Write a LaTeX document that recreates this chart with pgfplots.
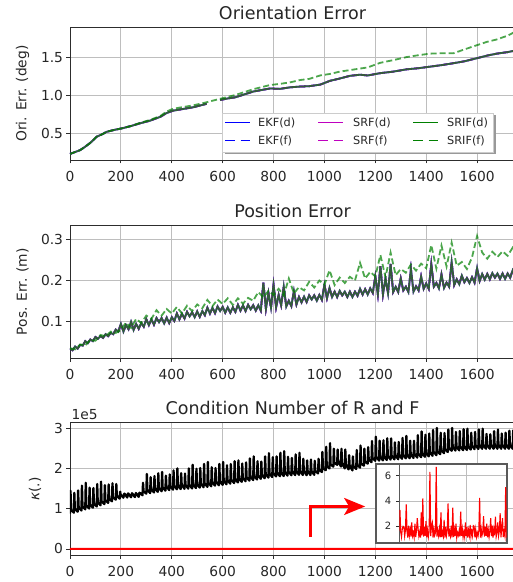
\documentclass[border=0pt]{standalone}
\usepackage{fontspec}
\setmainfont{DejaVu Sans}
\usepackage{pgfplots}
\pgfplotsset{compat=1.18}
\usepackage{pgfplotstable}
\usetikzlibrary{arrows.meta}

\definecolor{ekf}{RGB}{0,0,255}
\definecolor{srf}{RGB}{191,0,191}
\definecolor{srif}{RGB}{0,128,0}
\definecolor{spine}{RGB}{45,45,45}
\definecolor{gridc}{RGB}{190,190,190}

\newcommand\tk{\fontsize{13.8pt}{16pt}\selectfont}
\newcommand\ttl{\fontsize{17.5pt}{20pt}\selectfont}
\newcommand\lgd{\fontsize{11.3pt}{13pt}\selectfont}
\newcommand\ins{\fontsize{10pt}{12pt}\selectfont}

\tikzset{
  ln/.style={line width=1.8pt, opacity=0.7},
  dsh/.style={dash pattern=on 6pt off 3pt},
}

% orientation error: o = EKF/SRF/SRIF(d) and (f) except SRIF(f) = of
\pgfplotstableread{
x o of
0 0.235 0.235
20 0.26 0.26
40 0.285 0.285
60 0.33 0.33
80 0.38 0.38
105 0.46 0.46
125 0.49 0.49
145 0.525 0.525
175 0.55 0.55
205 0.57 0.57
240 0.60 0.60
275 0.635 0.64
315 0.67 0.68
355 0.72 0.73
380 0.77 0.79
405 0.80 0.825
440 0.82 0.845
485 0.845 0.87
537 0.89 0.91
560 nan 0.93
590 0.94 0.955
620 0.96 0.98
650 0.975 1.005
720 1.05 1.08
786 1.09 1.135
825 1.085 1.15
865 1.105 1.17
904 1.115 1.20
940 1.12 1.215
983 1.14 1.26
1022 1.19 1.28
1060 1.22 1.31
1100 1.255 1.33
1140 1.27 1.35
1170 1.26 1.365
1219 1.29 1.425
1270 1.31 1.46
1323 1.34 1.50
1370 1.355 1.525
1415 1.375 1.545
1460 1.395 1.55
1507 1.42 1.55
1550 1.445 1.60
1599 1.485 1.655
1640 1.52 1.70
1677 1.545 1.73
1720 1.565 1.78
1749 1.585 1.83
}\orient

% position error of EKF/SRF/SRIF(d) and EKF/SRF(f)
\pgfplotstableread[row sep=\\]{
x b\\
0 .035\\ 10 .031\\ 20 .040\\ 30 .035\\ 40 .044\\ 50 .042\\ 60 .053\\ 70 .048\\ 80 .057\\ 90 .053\\
100 .063\\ 110 .059\\ 120 .065\\ 130 .061\\ 140 .070\\ 150 .065\\ 160 .073\\ 170 .070\\ 180 .081\\ 190 .076\\
200 .095\\ 210 .076\\ 220 .092\\ 230 .082\\ 240 .100\\ 250 .080\\ 260 .095\\ 270 .083\\ 280 .097\\ 290 .088\\
300 .106\\ 310 .092\\ 320 .106\\ 330 .093\\ 340 .109\\ 350 .099\\ 360 .109\\ 370 .096\\ 380 .110\\ 390 .097\\
400 .111\\ 410 .102\\ 420 .120\\ 430 .106\\ 440 .120\\ 450 .108\\ 460 .124\\ 470 .113\\ 480 .123\\ 490 .111\\
500 .125\\ 510 .112\\ 520 .126\\ 530 .116\\ 540 .134\\ 550 .120\\ 560 .134\\ 570 .121\\ 580 .137\\ 590 .126\\
600 .136\\ 610 .122\\ 620 .135\\ 630 .122\\ 640 .135\\ 650 .124\\ 660 .141\\ 670 .127\\ 680 .140\\ 690 .126\\
700 .141\\ 710 .130\\ 720 .140\\ 730 .127\\ 740 .140\\ 750 .127\\ 760 .195\\ 770 .131\\ 780 .170\\ 790 .134\\
800 .190\\ 810 .135\\ 820 .165\\ 830 .140\\ 840 .185\\ 850 .137\\ 860 .151\\ 870 .138\\ 880 .175\\ 890 .142\\
900 .160\\ 910 .147\\ 920 .161\\ 930 .148\\ 940 .164\\ 950 .154\\ 960 .164\\ 970 .151\\ 980 .165\\ 990 .153\\
1000 .190\\ 1010 .157\\ 1020 .182\\ 1030 .160\\ 1040 .173\\ 1050 .160\\ 1060 .175\\ 1070 .164\\ 1080 .173\\ 1090 .160\\
1100 .173\\ 1110 .160\\ 1120 .173\\ 1130 .163\\ 1140 .180\\ 1150 .166\\ 1160 .179\\ 1170 .166\\ 1180 .181\\ 1190 .170\\
1200 .210\\ 1210 .166\\ 1220 .235\\ 1230 .166\\ 1240 .205\\ 1250 .169\\ 1260 .240\\ 1270 .172\\ 1280 .185\\ 1290 .172\\
1300 .205\\ 1310 .176\\ 1320 .185\\ 1330 .172\\ 1340 .228\\ 1350 .173\\ 1360 .186\\ 1370 .176\\ 1380 .210\\ 1390 .180\\
1400 .193\\ 1410 .180\\ 1420 .240\\ 1430 .185\\ 1440 .194\\ 1450 .181\\ 1460 .215\\ 1470 .182\\ 1480 .195\\ 1490 .185\\
1500 .245\\ 1510 .189\\ 1520 .203\\ 1530 .191\\ 1540 .212\\ 1550 .196\\ 1560 .206\\ 1570 .194\\ 1580 .208\\ 1590 .195\\
1600 .230\\ 1610 .199\\ 1620 .216\\ 1630 .202\\ 1640 .216\\ 1650 .203\\ 1660 .218\\ 1670 .207\\ 1680 .217\\ 1690 .204\\
1700 .217\\ 1710 .204\\ 1720 .217\\ 1730 .207\\ 1740 .225\\ 1750 .211\\ 1760 .224\\ 1770 .211\\ 1780 .226\\
}\posit

% position error of SRIF(f)
\pgfplotstableread[row sep=\\]{
x sf\\
0 .036\\ 20 .033\\ 40 .045\\ 60 .043\\ 80 .056\\ 100 .054\\ 120 .068\\ 140 .065\\ 160 .076\\ 180 .073\\
200 .080\\ 220 .098\\ 240 .085\\ 260 .107\\ 280 .097\\ 300 .115\\ 320 .107\\ 340 .128\\ 360 .115\\ 380 .131\\
400 .120\\ 420 .136\\ 440 .120\\ 460 .139\\ 480 .126\\ 500 .142\\ 520 .133\\ 540 .153\\ 560 .138\\ 580 .154\\
600 .143\\ 620 .157\\ 640 .141\\ 660 .157\\ 680 .144\\ 700 .158\\ 720 .151\\ 740 .172\\ 760 .159\\ 780 .175\\
800 .165\\ 820 .180\\ 840 .164\\ 860 .205\\ 880 .169\\ 900 .184\\ 920 .176\\ 940 .197\\ 960 .183\\ 980 .200\\
1000 .190\\ 1020 .225\\ 1040 .189\\ 1060 .207\\ 1080 .194\\ 1100 .209\\ 1120 .200\\ 1140 .243\\ 1160 .205\\ 1180 .221\\
1200 .210\\ 1220 .262\\ 1240 .208\\ 1260 .268\\ 1280 .213\\ 1300 .228\\ 1320 .219\\ 1340 .239\\ 1360 .224\\ 1380 .241\\
1400 .230\\ 1420 .286\\ 1440 .229\\ 1460 .285\\ 1480 .234\\ 1500 .292\\ 1520 .236\\ 1540 .245\\ 1560 .228\\ 1580 .256\\
1600 .308\\ 1620 .268\\ 1640 .253\\ 1660 .270\\ 1680 .257\\ 1700 .271\\ 1720 .260\\ 1740 .280\\ 1760 .264\\ 1780 .279\\
}\positf

% condition number of R (units of 1e5): base, peak, base per pulse
\pgfplotstableread[row sep=\\]{
x k\\
0 0.88\\ 2 1.45\\ 4 0.98\\ 15 0.905\\ 17 1.40\\ 19 1.005\\
30 0.93\\ 32 1.46\\ 34 1.03\\ 45 0.96\\ 47 1.58\\ 49 1.06\\
60 0.99\\ 62 1.65\\ 64 1.09\\ 75 1.01\\ 77 1.53\\ 79 1.11\\
90 1.03\\ 92 1.52\\ 94 1.13\\ 105 1.06\\ 107 1.62\\ 109 1.16\\
120 1.09\\ 122 1.68\\ 124 1.19\\ 135 1.12\\ 137 1.59\\ 139 1.22\\
150 1.15\\ 152 1.61\\ 154 1.25\\ 165 1.19\\ 167 1.64\\ 169 1.29\\
180 1.23\\ 182 1.62\\ 184 1.33\\ 195 1.255\\ 197 1.43\\ 199 1.355\\
210 1.28\\ 212 1.36\\ 214 1.38\\ 225 1.285\\ 227 1.375\\ 229 1.385\\
240 1.29\\ 242 1.35\\ 244 1.39\\ 255 1.295\\ 257 1.35\\ 259 1.395\\
270 1.30\\ 272 1.40\\ 274 1.40\\ 285 1.34\\ 287 1.65\\ 289 1.44\\
300 1.38\\ 302 1.87\\ 304 1.48\\ 315 1.395\\ 317 1.79\\ 319 1.495\\
330 1.41\\ 332 1.82\\ 334 1.51\\ 345 1.425\\ 347 1.89\\ 349 1.525\\
360 1.44\\ 362 1.92\\ 364 1.54\\ 375 1.455\\ 377 1.83\\ 379 1.555\\
390 1.47\\ 392 1.86\\ 394 1.57\\ 405 1.48\\ 407 1.96\\ 409 1.58\\
420 1.49\\ 422 2.01\\ 424 1.59\\ 435 1.495\\ 437 1.89\\ 439 1.595\\
450 1.50\\ 452 1.88\\ 454 1.60\\ 465 1.505\\ 467 2.01\\ 469 1.605\\
480 1.51\\ 482 2.10\\ 484 1.61\\ 495 1.52\\ 497 2.00\\ 499 1.62\\
510 1.53\\ 512 2.02\\ 514 1.63\\ 525 1.54\\ 527 2.12\\ 529 1.64\\
540 1.55\\ 542 2.17\\ 544 1.65\\ 555 1.565\\ 557 2.04\\ 559 1.665\\
570 1.58\\ 572 2.02\\ 574 1.68\\ 585 1.59\\ 587 2.12\\ 589 1.69\\
600 1.60\\ 602 2.17\\ 604 1.70\\ 615 1.615\\ 617 2.09\\ 619 1.715\\
630 1.63\\ 632 2.12\\ 634 1.73\\ 645 1.645\\ 647 2.19\\ 649 1.745\\
660 1.66\\ 662 2.21\\ 664 1.76\\ 675 1.675\\ 677 2.13\\ 679 1.775\\
690 1.69\\ 692 2.16\\ 694 1.79\\ 705 1.705\\ 707 2.26\\ 709 1.805\\
720 1.72\\ 722 2.31\\ 724 1.82\\ 735 1.735\\ 737 2.19\\ 739 1.835\\
750 1.75\\ 752 2.18\\ 754 1.85\\ 765 1.765\\ 767 2.31\\ 769 1.865\\
780 1.78\\ 782 2.39\\ 784 1.88\\ 795 1.795\\ 797 2.29\\ 799 1.895\\
810 1.81\\ 812 2.31\\ 814 1.91\\ 825 1.815\\ 827 2.40\\ 829 1.915\\
840 1.82\\ 842 2.44\\ 844 1.92\\ 855 1.83\\ 857 2.30\\ 859 1.93\\
870 1.84\\ 872 2.27\\ 874 1.94\\ 885 1.845\\ 887 2.36\\ 889 1.945\\
900 1.85\\ 902 2.40\\ 904 1.95\\ 915 1.845\\ 917 2.25\\ 919 1.945\\
930 1.84\\ 932 2.21\\ 934 1.94\\ 945 1.845\\ 947 2.23\\ 949 1.945\\
960 1.85\\ 962 2.20\\ 964 1.95\\ 975 1.885\\ 977 2.25\\ 979 1.985\\
990 1.92\\ 992 2.42\\ 994 2.02\\ 1005 1.965\\ 1007 2.55\\ 1009 2.065\\
1020 2.01\\ 1022 2.64\\ 1024 2.11\\ 1035 2.055\\ 1037 2.50\\ 1039 2.155\\
1050 2.10\\ 1052 2.48\\ 1054 2.20\\ 1065 2.055\\ 1067 2.50\\ 1069 2.155\\
1080 2.01\\ 1082 2.48\\ 1084 2.11\\ 1095 1.985\\ 1097 2.34\\ 1099 2.085\\
1110 1.96\\ 1112 2.31\\ 1114 2.06\\ 1125 1.995\\ 1127 2.47\\ 1129 2.095\\
1140 2.03\\ 1142 2.58\\ 1144 2.13\\ 1155 2.08\\ 1157 2.50\\ 1159 2.18\\
1170 2.13\\ 1172 2.54\\ 1174 2.23\\ 1185 2.165\\ 1187 2.69\\ 1189 2.265\\
1200 2.20\\ 1202 2.80\\ 1204 2.30\\ 1215 2.205\\ 1217 2.70\\ 1219 2.305\\
1230 2.21\\ 1232 2.71\\ 1234 2.31\\ 1245 2.22\\ 1247 2.76\\ 1249 2.32\\
1260 2.23\\ 1262 2.76\\ 1264 2.33\\ 1275 2.235\\ 1277 2.66\\ 1279 2.335\\
1290 2.24\\ 1292 2.67\\ 1294 2.34\\ 1305 2.25\\ 1307 2.77\\ 1309 2.35\\
1320 2.26\\ 1322 2.82\\ 1324 2.36\\ 1335 2.265\\ 1337 2.70\\ 1339 2.365\\
1350 2.27\\ 1352 2.70\\ 1354 2.37\\ 1365 2.28\\ 1367 2.84\\ 1369 2.38\\
1380 2.29\\ 1382 2.93\\ 1384 2.39\\ 1395 2.30\\ 1397 2.85\\ 1399 2.40\\
1410 2.31\\ 1412 2.88\\ 1414 2.41\\ 1425 2.325\\ 1427 2.97\\ 1429 2.425\\
1440 2.34\\ 1442 3.02\\ 1444 2.44\\ 1455 2.365\\ 1457 2.90\\ 1459 2.465\\
1470 2.39\\ 1472 2.89\\ 1474 2.49\\ 1485 2.42\\ 1487 2.98\\ 1489 2.52\\
1500 2.45\\ 1502 3.02\\ 1504 2.55\\ 1515 2.455\\ 1517 2.92\\ 1519 2.555\\
1530 2.46\\ 1532 2.94\\ 1534 2.56\\ 1545 2.465\\ 1547 2.99\\ 1549 2.565\\
1560 2.47\\ 1562 3.00\\ 1564 2.57\\ 1575 2.48\\ 1577 2.90\\ 1579 2.58\\
1590 2.49\\ 1592 2.92\\ 1594 2.59\\ 1605 2.495\\ 1607 2.98\\ 1609 2.595\\
1620 2.50\\ 1622 3.00\\ 1624 2.60\\ 1635 2.50\\ 1637 2.87\\ 1639 2.60\\
1650 2.50\\ 1652 2.86\\ 1654 2.60\\ 1665 2.50\\ 1667 2.94\\ 1669 2.60\\
1680 2.50\\ 1682 2.98\\ 1684 2.60\\ 1695 2.50\\ 1697 2.88\\ 1699 2.60\\
1710 2.50\\ 1712 2.90\\ 1714 2.60\\ 1725 2.50\\ 1727 2.95\\ 1729 2.60\\
1740 2.50\\ 1742 2.96\\ 1744 2.60\\ 1755 2.50\\ 1757 2.82\\ 1759 2.60\\
1770 2.50\\ 1772 2.80\\ 1774 2.60\\
}\condR

% condition number of F
\pgfplotstableread[row sep=\\]{
x k\\
0 1.40\\ 50 1.50\\ 100 1.30\\ 140 1.60\\
150 1.65\\ 160 3.29\\ 170 1.55\\ 180 1.15\\ 190 1.80\\ 200 2.00\\ 210 1.95\\ 220 1.22\\ 230 1.70\\ 240 3.73\\
250 1.60\\ 260 1.10\\ 270 2.05\\ 280 1.28\\ 290 1.75\\ 300 1.18\\ 310 2.30\\ 320 1.25\\ 330 1.50\\ 340 1.12\\
350 2.20\\ 360 1.15\\ 370 1.65\\ 380 2.65\\ 390 1.80\\ 400 1.22\\ 410 1.55\\ 420 1.10\\ 430 3.10\\ 440 1.28\\
450 4.20\\ 460 1.18\\ 470 1.95\\ 480 1.25\\ 490 2.40\\ 500 1.12\\ 510 1.70\\ 520 1.15\\ 530 1.60\\ 540 6.30\\
550 1.22\\ 560 2.05\\ 570 2.30\\ 580 1.10\\ 590 1.75\\ 600 1.28\\ 610 1.50\\ 620 6.70\\ 630 1.18\\ 640 1.65\\
650 1.25\\ 660 1.80\\ 670 1.12\\ 680 3.10\\ 690 1.15\\ 700 1.55\\ 710 1.22\\ 720 2.50\\ 730 1.10\\ 740 1.95\\
750 1.28\\ 760 1.70\\ 770 3.80\\ 780 1.18\\ 790 1.60\\ 800 1.25\\ 810 2.05\\ 820 1.12\\ 830 3.47\\ 840 1.15\\
850 1.75\\ 860 1.22\\ 870 2.20\\ 880 1.10\\ 890 1.50\\ 900 1.28\\ 910 1.65\\ 920 1.18\\ 930 3.16\\ 940 1.25\\
950 1.80\\ 960 1.12\\ 970 1.55\\ 980 1.15\\ 990 2.30\\ 1000 1.22\\ 1010 1.95\\ 1020 1.10\\ 1030 1.70\\ 1040 1.28\\
1050 2.10\\ 1060 1.18\\ 1070 1.60\\ 1080 1.25\\ 1090 2.05\\ 1100 2.00\\ 1110 1.12\\ 1120 1.75\\ 1130 1.15\\ 1140 1.50\\
1150 1.22\\ 1160 1.65\\ 1170 4.25\\ 1180 1.10\\ 1190 1.80\\ 1200 1.28\\ 1210 1.55\\ 1220 2.80\\ 1230 1.18\\ 1240 1.95\\
1250 1.25\\ 1260 2.20\\ 1270 1.12\\ 1280 1.70\\ 1290 1.15\\ 1300 1.60\\ 1310 2.65\\ 1320 1.22\\ 1330 2.05\\ 1340 1.10\\
1350 1.75\\ 1360 1.28\\ 1370 2.77\\ 1380 1.18\\ 1390 1.50\\ 1400 2.30\\ 1410 1.25\\ 1420 1.65\\ 1430 3.03\\ 1440 1.12\\
1450 1.80\\ 1460 2.65\\ 1470 1.15\\ 1480 1.55\\ 1490 1.22\\ 1500 5.10\\ 1510 1.10\\ 1520 1.95\\
1550 1.40\\ 1600 1.50\\ 1700 1.30\\ 1800 1.50\\
}\condF

\pgfplotsset{
  errax/.style={
    width=445pt, height=133pt, scale only axis,
    xmin=0, xmax=1749,
    xtick={0,200,...,1600},
    tick align=outside, tick pos=left,
    major tick length=3.5pt,
    tick style={spine, line width=0.9pt},
    axis line style={spine, line width=0.9pt},
    grid=major, grid style={gridc, line width=0.9pt},
    tick label style={font=\tk, text=black!85},
    /pgf/number format/assume math mode=true,
    /pgf/number format/1000 sep={},
    xticklabel style={yshift=-4pt},
    label style={font=\tk, text=black!85},
    title style={font=\ttl, text=black!85, anchor=center},
    unbounded coords=jump,
  },
}

\begin{document}
\begin{tikzpicture}
\path[use as bounding box] (0pt,0pt) rectangle (513pt,582pt);

% ---------- orientation error ----------
\begin{axis}[errax, at={(70pt,422pt)}, anchor=south west,
  ymin=0.156, ymax=1.893, ytick={0.5,1.0,1.5},
  yticklabel style={/pgf/number format/.cd, fixed, fixed zerofill, precision=1},
  ylabel={Ori. Err. (deg)},
  ylabel style={at={([xshift=-47.5pt]rel axis cs:0,0.5)}, anchor=center},
  title={Orientation Error},
  title style={at={([yshift=8.5pt]rel axis cs:0.5,1)}},
]
\addplot[ln, ekf] table[x=x, y=o] {\orient};
\addplot[ln, ekf, dsh] table[x=x, y=o] {\orient};
\addplot[ln, srf] table[x=x, y=o] {\orient};
\addplot[ln, srf, dsh] table[x=x, y=o] {\orient};
\addplot[ln, srif] table[x=x, y=o] {\orient};
\addplot[ln, srif, dsh] table[x=x, y=of] {\orient};
\end{axis}

% legend of the top panel, with its shadow
\fill[black!40] (224.5pt,427.5pt) rectangle (495.5pt,466.5pt);
\draw[black!20, fill=white, line width=0.8pt] (222pt,430pt) rectangle (493pt,469pt);
\foreach \c/\xl/\xt/\nm in {ekf/225/258/EKF, srf/318/353/SRF, srif/413/447/SRIF} {
  \draw[\c, line width=1.6pt] (\xl pt,459.5pt) -- ++(25pt,0pt);
  \draw[\c, line width=1.6pt] (\xl pt,441.5pt) -- ++(9.5pt,0pt) ++(6pt,0pt) -- ++(9.5pt,0pt);
  \node[font=\lgd, text=black!85, anchor=west, inner sep=0pt] at (\xt pt,459.5pt) {\nm(d)};
  \node[font=\lgd, text=black!85, anchor=west, inner sep=0pt] at (\xt pt,441.5pt) {\nm(f)};
}

% ---------- position error ----------
\begin{axis}[errax, at={(70pt,223.7pt)}, anchor=south west,
  ymin=0.0114, ymax=0.334, ytick={0.1,0.2,0.3},
  yticklabel style={/pgf/number format/.cd, fixed, fixed zerofill, precision=1},
  ylabel={Pos. Err. (m)},
  ylabel style={at={([xshift=-47.5pt]rel axis cs:0,0.5)}, anchor=center},
  title={Position Error},
  title style={at={([yshift=8.5pt]rel axis cs:0.5,1)}},
]
\addplot[ln, ekf] table[x=x, y=b] {\posit};
\addplot[ln, ekf, dsh] table[x=x, y=b] {\posit};
\addplot[ln, srf] table[x=x, y=b] {\posit};
\addplot[ln, srf, dsh] table[x=x, y=b] {\posit};
\addplot[ln, srif] table[x=x, y=b] {\posit};
\addplot[ln, srif, dsh] table[x=x, y=sf] {\positf};
\end{axis}

% ---------- condition number ----------
\begin{axis}[errax, name=ax3, at={(70pt,26.3pt)}, anchor=south west,
  ymin=-0.168, ymax=3.15, ytick={0,1,2,3},
  ylabel={{\itshape κ}(.)},
  ylabel style={at={([xshift=-35pt]rel axis cs:0,0.5)}, anchor=center},
  title={Condition Number of R and F},
  title style={at={([yshift=8.8pt]rel axis cs:0.5,1)}},
]
\addplot[black, line width=2.3pt, line join=round] table[x=x, y=k] {\condR};
\addplot[red, line width=2pt] table[x=x, y expr=\thisrow{k}*1e-5] {\condF};
\draw[red, line width=2.6pt, line join=miter,
  -{Stealth[length=21pt, width=17pt, inset=5pt]}]
  (axis cs:946,0.31) -- (axis cs:946,1.06) -- (axis cs:1160,1.06);
\end{axis}
\node[font=\tk, text=black!85, anchor=base west, inner sep=0pt]
  at ([xshift=1.5pt, yshift=3pt]ax3.north west) {1e5};

% inset
\draw[fill=white, draw=black!65, line width=2pt] (376pt,38.5pt) rectangle (507pt,118pt);
\begin{axis}[at={(399.3pt,38.5pt)}, anchor=south west,
  width=107.4pt, height=79.5pt, scale only axis,
  xmin=152, xmax=1513, ymin=0.64, ymax=6.92,
  xtick={500,1000}, xticklabels={}, ytick={2,4,6},
  tick align=outside, tick pos=left, major tick length=3pt,
  xtick style={draw=none}, ytick style={spine, line width=0.8pt},
  axis line style={black!65, line width=1pt},
  grid=major, grid style={gridc, line width=0.8pt},
  tick label style={font=\ins, text=black!85},
  yticklabel style={xshift=-1.5pt},
  /pgf/number format/assume math mode=true,
]
\addplot[red, line width=1.1pt] table[x=x, y=k] {\condF};
\end{axis}
\end{tikzpicture}
\end{document}
